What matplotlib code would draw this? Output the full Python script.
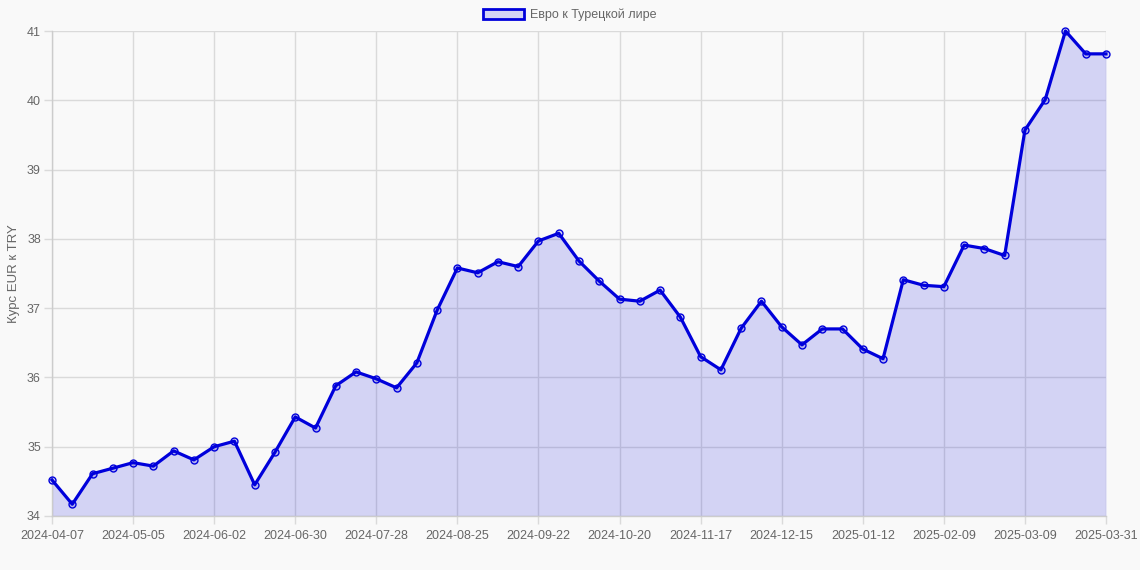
import pandas as pd
import matplotlib
matplotlib.use('Agg')
import matplotlib.pyplot as plt
from matplotlib.patches import Patch

# Weekly dates, plus the last day of the period
dates = [d.strftime('%Y-%m-%d') for d in pd.date_range('2024-04-07', '2025-03-30', freq='7D')]
dates.append('2025-03-31')

eur_try = [34.52, 34.17, 34.61, 34.69, 34.77, 34.72, 34.94, 34.81, 35.00, 35.08,
           34.45, 34.92, 35.43, 35.27, 35.88, 36.08, 35.98, 35.85, 36.21, 36.97,
           37.58, 37.51, 37.67, 37.60, 37.97, 38.08, 37.68, 37.39, 37.13, 37.10,
           37.26, 36.87, 36.30, 36.11, 36.71, 37.10, 36.73, 36.47, 36.70, 36.70,
           36.41, 36.27, 37.41, 37.33, 37.31, 37.91, 37.86, 37.76, 39.57, 40.01,
           41.00, 40.67, 40.67]

series_label = 'Евро к Турецкой лире'
y_label = 'Курс EUR к TRY'

bg = '#f9f9f9'
line_col = (0.0, 0.0, 0.86)
fill_col = (0.0, 0.0, 0.86, 0.15)
grid_col = '#dadada'
text_col = '#666666'

plt.rcParams['font.family'] = ['Liberation Sans', 'DejaVu Sans']

fig = plt.figure(figsize=(11.4, 5.7), dpi=100, facecolor=bg)
ax = fig.add_axes([52 / 1140, 1 - 516 / 570, (1106 - 52) / 1140, (516 - 31) / 570])
ax.set_facecolor(bg)

x = list(range(len(dates)))
ax.fill_between(x, eur_try, 34, color=fill_col, linewidth=0, zorder=2)
ax.plot(x, eur_try, color=line_col, linewidth=2.3, zorder=3, clip_on=False,
        marker='o', markersize=5, markerfacecolor=fill_col,
        markeredgecolor=line_col, markeredgewidth=1)

ax.set_xlim(0, len(dates) - 1)
ax.set_ylim(34, 41)
ax.set_yticks(range(34, 42))

# every 4th week shown, plus the last date
tick_idx = list(range(0, len(dates) - 1, 4)) + [len(dates) - 1]
ax.set_xticks(tick_idx)
ax.set_xticklabels([dates[i] for i in tick_idx])

ax.grid(True, color=grid_col, linewidth=1, zorder=0)
ax.set_axisbelow(True)
for s in ['top', 'right']:
    ax.spines[s].set_visible(False)
for s in ['left', 'bottom']:
    ax.spines[s].set_color('#cccccc')
    ax.spines[s].set_linewidth(1)

ax.tick_params(axis='both', colors=grid_col, labelcolor=text_col,
               labelsize=9, length=6, width=1, pad=2)
ax.tick_params(axis='x', pad=4)
ax.set_ylabel(y_label, color=text_col, fontsize=9.5, labelpad=5)

handle = Patch(facecolor=fill_col, edgecolor=line_col, linewidth=2)
fig.legend([handle], [series_label], loc='center', bbox_to_anchor=(0.5, 1 - 15 / 570),
           frameon=False, fontsize=9, labelcolor=text_col,
           handlelength=3.3, handleheight=0.9, handletextpad=0.5)

fig.savefig('out.png', dpi=100, facecolor=bg)
